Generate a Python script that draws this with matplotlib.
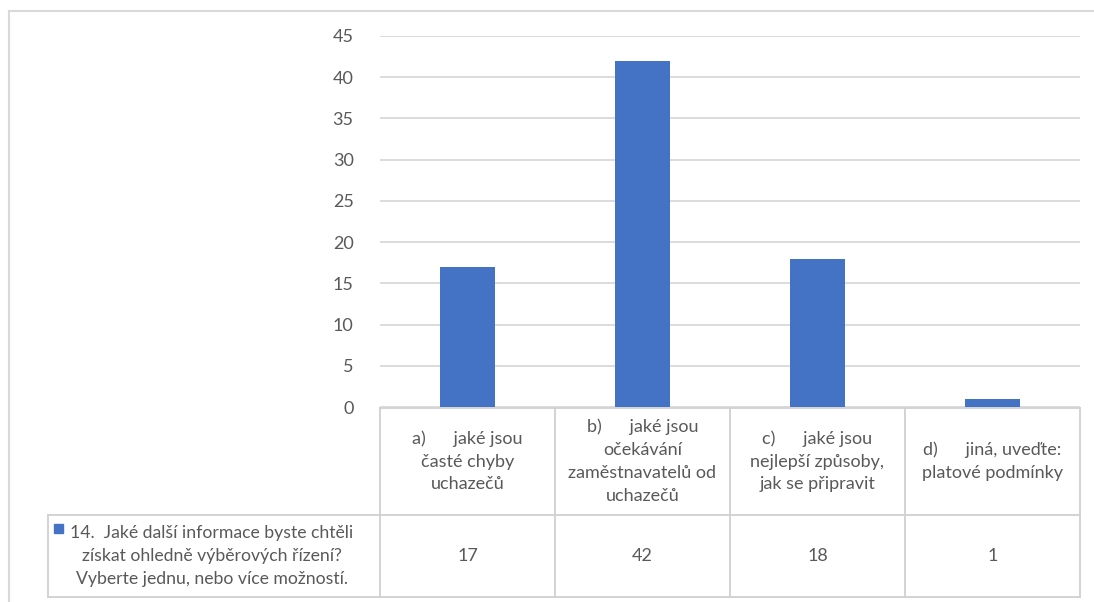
import matplotlib
matplotlib.use("Agg")
import matplotlib.pyplot as plt
from matplotlib.lines import Line2D
from matplotlib.patches import Rectangle

plt.rcParams['font.family'] = ['Lato', 'DejaVu Sans']

categories = [
    "a)      jaké jsou\nčasté chyby\nuchazečů",
    "b)      jaké jsou\nočekávání\nzaměstnavatelů od\nuchazečů",
    "c)      jaké jsou\nnejlepší způsoby,\njak se připravit",
    "d)      jiná, uveďte:\nplatové podmínky",
]
values = [17, 42, 18, 1]
series_name = "14.  Jaké další informace byste chtěli\nzískat ohledně výběrových řízení?\nVyberte jednu, nebo více možností."
yticks = [0, 5, 10, 15, 20, 25, 30, 35, 40, 45]

W, H = 1094, 602
BLUE = "#4472C4"
GRID = "#D9D9D9"
TXT = "#595959"
FS = 13

fig = plt.figure(figsize=(W / 100, H / 100), dpi=100)

def fx(px):
    return px / W

def fy(py):
    return 1 - py / H

# plot area
x0, x1 = 380, 1080
y_top, y_bot = 36, 407
ax = fig.add_axes([fx(x0), fy(y_bot), fx(x1) - fx(x0), fy(y_top) - fy(y_bot)])
n = len(values)
ax.bar(range(n), values, width=0.31, color=BLUE, zorder=3)
ax.set_xlim(-0.5, n - 0.5)
ax.set_ylim(0, 45)
ax.set_yticks(yticks)
ax.set_yticklabels([str(t) for t in yticks])
ax.yaxis.grid(True, color=GRID, linewidth=1.3, zorder=0)
ax.set_xticks([])
for s in ax.spines.values():
    s.set_visible(False)
ax.tick_params(axis='y', length=0, pad=19, labelsize=FS, labelcolor=TXT)

# outer chart frame
fig.add_artist(Line2D([fx(8.5), fx(8.5)], [fy(10.5), 0], color=GRID, lw=1.5, transform=fig.transFigure))
fig.add_artist(Line2D([fx(8.5), 1], [fy(10.5), fy(10.5)], color=GRID, lw=1.5, transform=fig.transFigure))

# data table
row1_top, row_mid, row_bot = 407.5, 515, 596.5
col_edges = [x0 + i * (x1 - x0) / n for i in range(n + 1)]
left_cell = 47.5
LC = "#D0D0D0"

def hline(xa, xb, y):
    fig.add_artist(Line2D([fx(xa), fx(xb)], [fy(y), fy(y)], color=LC, lw=1.3, transform=fig.transFigure))

def vline(x, ya, yb):
    fig.add_artist(Line2D([fx(x), fx(x)], [fy(ya), fy(yb)], color=LC, lw=1.3, transform=fig.transFigure))

hline(x0, x1, row1_top)
hline(left_cell, x1, row_mid)
hline(left_cell, x1, row_bot)
for i, cx in enumerate(col_edges):
    vline(cx, row1_top, row_bot)
vline(left_cell, row_mid, row_bot)

for i in range(n):
    cx = (col_edges[i] + col_edges[i + 1]) / 2
    fig.text(fx(cx), fy((row1_top + row_mid) / 2), categories[i], ha='center', va='center',
             multialignment='center', fontsize=FS, color=TXT, linespacing=1.52)
    fig.text(fx(cx), fy((row_mid + row_bot) / 2), str(values[i]), ha='center', va='center',
             fontsize=FS, color=TXT)

fig.text(fx(212), fy((row_mid + row_bot) / 2), series_name, ha='center', va='center',
         multialignment='center', fontsize=12.7, color=TXT, linespacing=1.55)
fig.add_artist(Rectangle((fx(54), fy(532.5)), fx(9), fx(9) * W / H, color=BLUE, transform=fig.transFigure))

fig.savefig("out.png", dpi=100)
